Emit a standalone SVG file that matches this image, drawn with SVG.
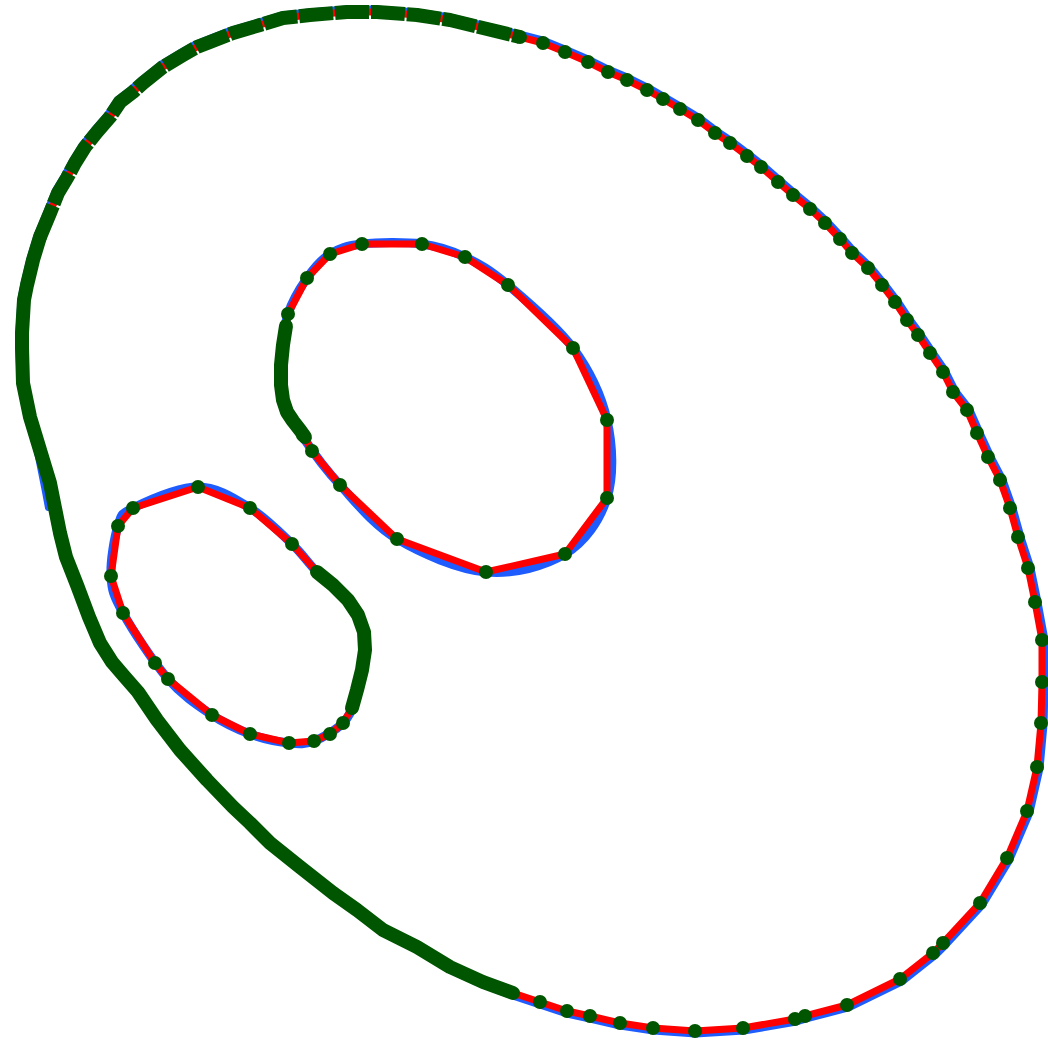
<svg xmlns="http://www.w3.org/2000/svg" width="1048" height="1042" viewBox="0 0 1048 1042">
<style>
.blue{fill:none;stroke:#1f5cff;stroke-width:9;stroke-linejoin:round;stroke-linecap:round}
.bluep{fill:none;stroke:#1f5cff;stroke-width:6;stroke-linecap:round;stroke-linejoin:round}
.red{fill:none;stroke:#ff0000;stroke-width:7;stroke-linejoin:round}
.band{fill:none;stroke:#005500;stroke-width:14;stroke-linejoin:round;stroke-linecap:round}
.bandg{fill:none;stroke:#005500;stroke-width:14;stroke-linejoin:round;stroke-dasharray:34 2}
.dot{fill:#005500}
</style>
<rect width="1048" height="1042" fill="#ffffff"/>
<g id="outer">
<polygon class="blue" transform="matrix(1.004 0 0 1.004 -2.12 -2.08)" points="520,37 543,43 565,52 588,62 608,72 627,80 647,90 663,99 680,109 698,120 715,133 730,143 747,156 761,167 778,182 793,195 810,209 825,223 840,239 852,253 868,268 882,285 895,302 907,320 918,335 930,353 943,372 953,392 967,410 977,433 988,457 1000,480 1010,508 1018,537 1028,568 1035,602 1042,640 1042,682 1041,723 1037,767 1027,811 1007,858 980,903 943,943 933,953 900,979 847,1005 805,1016 795,1019 743,1028 695,1031 653,1028 620,1023 590,1016 567,1011 540,1002 513,993 483,982 450,967 417,947 383,930 357,910 333,893 300,867 270,843 250,823 233,807 207,780 180,750 157,720 138,692 124,676 112,662 100,643 89,617 77,585 66,557 60,533 50,483 40,450 30,417 23,383 22,348 22,333 24,300 27,285 33,260 40,237 50,213 58,193 67,178 75,163 85,147 97,132 110,117 120,102 133,92 143,83 163,67 183,55 197,47 210,42 233,33 260,25 283,18 310,15 347,12 377,12 417,15 450,20 483,28"/>
<path class="bluep" d="M34,432 L37,452 L41,472 L45,492 L48,508"/>
<polygon class="red" points="520,37 543,43 565,52 588,62 608,72 627,80 647,90 663,99 680,109 698,120 715,133 730,143 747,156 761,167 778,182 793,195 810,209 825,223 840,239 852,253 868,268 882,285 895,302 907,320 918,335 930,353 943,372 953,392 967,410 977,433 988,457 1000,480 1010,508 1018,537 1028,568 1035,602 1042,640 1042,682 1041,723 1037,767 1027,811 1007,858 980,903 943,943 933,953 900,979 847,1005 805,1016 795,1019 743,1028 695,1031 653,1028 620,1023 590,1016 567,1011 540,1002 513,993 483,982 450,967 417,947 383,930 357,910 333,893 300,867 270,843 250,823 233,807 207,780 180,750 157,720 138,692 124,676 112,662 100,643 89,617 77,585 66,557 60,533 50,483 40,450 30,417 23,383 22,348 22,333 24,300 27,285 33,260 40,237 50,213 58,193 67,178 75,163 85,147 97,132 110,117 120,102 133,92 143,83 163,67 183,55 197,47 210,42 233,33 260,25 283,18 310,15 347,12 377,12 417,15 450,20 483,28"/>
<path class="band" d="M513,993 L483,982 L450,967 L417,947 L383,930 L357,910 L333,893 L300,867 L270,843 L250,823 L233,807 L207,780 L180,750 L157,720 L138,692 L124,676 L112,662 L100,643 L89,617 L77,585 L66,557 L60,533 L55,508 L50,483 L40,450 L30,417 L23,383 L22,348 L22,333 L24,300 L27,285 L33,260 L40,237"/>
<path class="bandg" d="M40,237 L50,213 L58,193 L67,178 L75,163 L85,147 L97,132 L110,117 L120,102 L133,92 L143,83 L163,67 L183,55 L197,47 L210,42 L233,33 L260,25 L283,18 L310,15 L347,12 L377,12 L417,15 L450,20 L483,28 L520,37"/>
<g class="dot">
<circle cx="520" cy="37" r="7"/><circle cx="543" cy="43" r="7"/><circle cx="565" cy="52" r="7"/><circle cx="588" cy="62" r="7"/><circle cx="608" cy="72" r="7"/><circle cx="627" cy="80" r="7"/><circle cx="647" cy="90" r="7"/><circle cx="663" cy="99" r="7"/><circle cx="680" cy="109" r="7"/><circle cx="698" cy="120" r="7"/><circle cx="715" cy="133" r="7"/><circle cx="730" cy="143" r="7"/><circle cx="747" cy="156" r="7"/><circle cx="761" cy="167" r="7"/><circle cx="778" cy="182" r="7"/><circle cx="793" cy="195" r="7"/><circle cx="810" cy="209" r="7"/><circle cx="825" cy="223" r="7"/><circle cx="840" cy="239" r="7"/><circle cx="852" cy="253" r="7"/><circle cx="868" cy="268" r="7"/><circle cx="882" cy="285" r="7"/><circle cx="895" cy="302" r="7"/><circle cx="907" cy="320" r="7"/><circle cx="918" cy="335" r="7"/><circle cx="930" cy="353" r="7"/><circle cx="943" cy="372" r="7"/><circle cx="953" cy="392" r="7"/><circle cx="967" cy="410" r="7"/><circle cx="977" cy="433" r="7"/><circle cx="988" cy="457" r="7"/><circle cx="1000" cy="480" r="7"/><circle cx="1010" cy="508" r="7"/><circle cx="1018" cy="537" r="7"/><circle cx="1028" cy="568" r="7"/><circle cx="1035" cy="602" r="7"/><circle cx="1042" cy="640" r="7"/><circle cx="1042" cy="682" r="7"/><circle cx="1041" cy="723" r="7"/><circle cx="1037" cy="767" r="7"/><circle cx="1027" cy="811" r="7"/><circle cx="1007" cy="858" r="7"/><circle cx="980" cy="903" r="7"/><circle cx="943" cy="943" r="7"/><circle cx="933" cy="953" r="7"/><circle cx="900" cy="979" r="7"/><circle cx="847" cy="1005" r="7"/><circle cx="805" cy="1016" r="7"/><circle cx="795" cy="1019" r="7"/><circle cx="743" cy="1028" r="7"/><circle cx="695" cy="1031" r="7"/><circle cx="653" cy="1028" r="7"/><circle cx="620" cy="1023" r="7"/><circle cx="590" cy="1016" r="7"/><circle cx="567" cy="1011" r="7"/><circle cx="540" cy="1002" r="7"/>
</g>
</g>
<g id="inner-large">
<path class="blue" d="M362,244 C377.3,242.3 404.8,241.8 422,244 C439.2,246.2 450.7,250.2 465,257 C479.3,263.8 490,269.8 508,285 C526,300.2 556.5,325.5 573,348 C589.5,370.5 601.3,395 607,420 C612.7,445 614,475.7 607,498 C600,520.3 585.2,541.7 565,554 C544.8,566.3 514,574.5 486,572 C458,569.5 421.3,553.5 397,539 C372.7,524.5 355.3,501.5 340,485 C324.7,468.5 314.3,454.2 305,440 C295.7,425.8 288,413.3 284,400 C280,386.7 280.3,374.3 281,360 C281.7,345.7 283.7,327.7 288,314 C292.3,300.3 300,288 307,278 C314,268 320.8,259.7 330,254 C339.2,248.3 346.7,245.7 362,244 Z"/>
<polygon class="red" points="362,244 422,244 465,257 508,285 573,348 607,420 607,498 565,554 486,572 397,539 340,485 312,451 303,435 293,423 284,400 281,360 286,326 288,314 307,278 330,254"/>
<path class="band" d="M286,326 L283,345 L281,365 L281,385 L283,400 L287,412 L293,421 L300,430 L305,437"/>
<g class="dot">
<circle cx="362" cy="244" r="7"/><circle cx="422" cy="244" r="7"/><circle cx="465" cy="257" r="7"/><circle cx="508" cy="285" r="7"/><circle cx="573" cy="348" r="7"/><circle cx="607" cy="420" r="7"/><circle cx="607" cy="498" r="7"/><circle cx="565" cy="554" r="7"/><circle cx="486" cy="572" r="7"/><circle cx="397" cy="539" r="7"/><circle cx="340" cy="485" r="7"/><circle cx="312" cy="451" r="7"/><circle cx="303" cy="435" r="7"/><circle cx="288" cy="314" r="7"/><circle cx="307" cy="278" r="7"/><circle cx="330" cy="254" r="7"/>
</g>
</g>
<g id="inner-small">
<path class="blue" d="M198,487 C217.5,487 234.3,498.5 250,508 C265.7,517.5 280.8,533.3 292,544 C303.2,554.7 307.7,562.7 317,572 C326.3,581.3 340.2,590 348,600 C355.8,610 361.3,621.2 364,632 C366.7,642.8 365.5,653.7 364,665 C362.5,676.3 358.5,690.3 355,700 C351.5,709.7 349.8,716.2 343,723 C336.2,729.8 323,737.7 314,741 C305,744.3 299.7,744.2 289,743 C278.3,741.8 262.8,738.7 250,734 C237.2,729.3 225.7,724.2 212,715 C198.3,705.8 182.8,696 168,679 C153.2,662 132.5,630.2 123,613 C113.5,595.8 111.8,590.5 111,576 C110.2,561.5 114.3,537.3 118,526 C121.7,514.7 119.7,514.5 133,508 C146.3,501.5 178.5,487 198,487 Z"/>
<polygon class="red" points="198,487 250,508 292,544 317,572 333,585 348,600 358,615 364,632 365,650 362,670 357,690 352,708 343,723 330,734 314,741 289,743 250,734 212,715 168,679 155,663 123,613 111,576 118,526 133,508"/>
<path class="band" d="M317,572 L333,585 L348,600 L358,615 L364,632 L365,650 L362,670 L357,690 L352,708"/>
<g class="dot">
<circle cx="198" cy="487" r="7"/><circle cx="250" cy="508" r="7"/><circle cx="292" cy="544" r="7"/><circle cx="343" cy="723" r="7"/><circle cx="330" cy="734" r="7"/><circle cx="314" cy="741" r="7"/><circle cx="289" cy="743" r="7"/><circle cx="250" cy="734" r="7"/><circle cx="212" cy="715" r="7"/><circle cx="168" cy="679" r="7"/><circle cx="155" cy="663" r="7"/><circle cx="123" cy="613" r="7"/><circle cx="111" cy="576" r="7"/><circle cx="118" cy="526" r="7"/><circle cx="133" cy="508" r="7"/>
</g>
</g>
</svg>
